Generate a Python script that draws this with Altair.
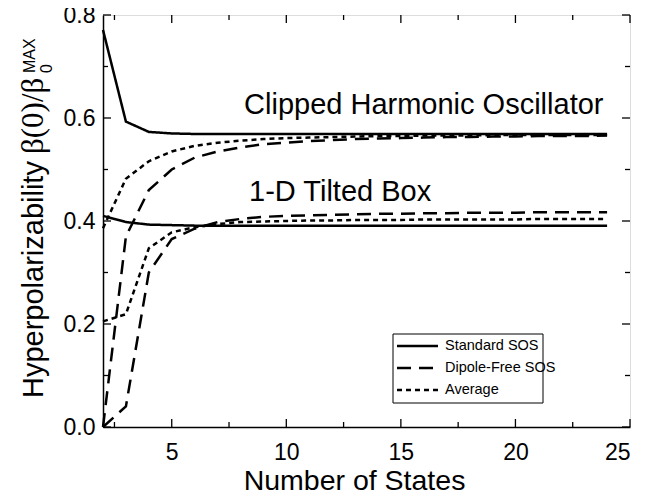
import altair as alt
import pandas as pd

# ---------------- data ----------------
states = list(range(2, 25))

cho_standard = [0.771, 0.593, 0.573, 0.570, 0.569, 0.569, 0.569, 0.569, 0.569, 0.569,
                0.569, 0.569, 0.569, 0.569, 0.569, 0.569, 0.569, 0.569, 0.569, 0.569,
                0.569, 0.569, 0.569]
cho_dipole_free = [0.0, 0.37, 0.46, 0.50, 0.523, 0.535, 0.543, 0.549, 0.552, 0.555,
                   0.557, 0.559, 0.560, 0.561, 0.562, 0.563, 0.563, 0.564, 0.564, 0.565,
                   0.565, 0.565, 0.566]
cho_average = [0.386, 0.482, 0.516, 0.535, 0.546, 0.552, 0.556, 0.559, 0.561, 0.562,
               0.563, 0.564, 0.565, 0.565, 0.566, 0.566, 0.566, 0.567, 0.567, 0.567,
               0.567, 0.567, 0.567]

tb_standard = [0.410, 0.398, 0.393, 0.392, 0.391, 0.391, 0.391, 0.391, 0.391, 0.391,
               0.391, 0.391, 0.391, 0.391, 0.391, 0.391, 0.391, 0.391, 0.391, 0.391,
               0.391, 0.391, 0.391]
tb_dipole_free = [0.0, 0.04, 0.30, 0.365, 0.385, 0.398, 0.404, 0.408, 0.410, 0.411,
                  0.412, 0.413, 0.414, 0.414, 0.415, 0.415, 0.416, 0.416, 0.416, 0.417,
                  0.417, 0.417, 0.417]
tb_average = [0.205, 0.219, 0.347, 0.378, 0.388, 0.394, 0.398, 0.399, 0.400, 0.401,
              0.401, 0.402, 0.402, 0.402, 0.403, 0.403, 0.403, 0.403, 0.403, 0.404,
              0.404, 0.404, 0.404]

series_names = ["Standard SOS", "Dipole-Free SOS", "Average"]
systems = ["Clipped Harmonic Oscillator", "1-D Tilted Box"]

x_major = [5, 10, 15, 20, 25]
x_minor = [2.5, 7.5, 12.5, 17.5, 22.5]
y_major = [0.0, 0.2, 0.4, 0.6, 0.8]
y_minor = [0.1, 0.3, 0.5, 0.7]

annot_text = ["Clipped Harmonic Oscillator", "1-D Tilted Box"]
annot_x = [16.0, 12.35]
annot_y = [0.625, 0.456]

# ---------------- build table ----------------
rows = []
for sysname, sets in [(systems[0], [cho_standard, cho_dipole_free, cho_average]),
                      (systems[1], [tb_standard, tb_dipole_free, tb_average])]:
    for sname, vals in zip(series_names, sets):
        for n, v in zip(states, vals):
            rows.append({"N": n, "value": v, "series": sname, "system": sysname,
                         "key": sysname + "|" + sname})
df = pd.DataFrame(rows)

W, H = 527, 412
FONT = "Liberation Sans"
DASHES = [[1, 0], [14, 8], [5, 4]]

xscale = alt.Scale(domain=[2, 25], nice=False, zero=False)
yscale = alt.Scale(domain=[0, 0.8], nice=False)

lines = alt.Chart(df).mark_line(strokeWidth=2.5, color="black").encode(
    x=alt.X("N:Q", scale=xscale,
            axis=alt.Axis(values=x_major, tickSize=0, grid=False, labelFontSize=23,
                          labelFont=FONT, labelColor="black", labelPadding=14,
                          domainColor="black", domainWidth=1.5,
                          title="Number of States", titleFont=FONT, titleFontSize=28.5,
                          titleFontWeight="normal", titleColor="black", titlePadding=2,
                          titleX=251, titleAlign="center")),
    y=alt.Y("value:Q", scale=yscale,
            axis=alt.Axis(values=y_major, format=".1f", tickSize=0, grid=False,
                          labelFontSize=23, labelFont=FONT, labelColor="black",
                          labelPadding=8, domainColor="black", domainWidth=1.5,
                          title=None)),
    detail="key:N",
    strokeDash=alt.StrokeDash(
        "series:N",
        scale=alt.Scale(domain=series_names, range=DASHES),
        legend=None,
    ),
    order="N:Q",
)

# inward ticks
def tick_df(vals, kind):
    return pd.DataFrame({"v": vals, "kind": [kind] * len(vals)})

xt = pd.concat([tick_df(x_major, "major"), tick_df(x_minor, "minor")])
yt = pd.concat([tick_df(y_major, "major"), tick_df(y_minor, "minor")])

def xticks(y0, major_len, minor_len):
    base = alt.Chart(xt)
    maj = base.transform_filter(alt.datum.kind == "major").mark_rule(color="black", strokeWidth=1.3).encode(
        x=alt.X("v:Q", scale=xscale), y=alt.value(y0), y2=alt.value(y0 + major_len))
    mino = base.transform_filter(alt.datum.kind == "minor").mark_rule(color="black", strokeWidth=1.3).encode(
        x=alt.X("v:Q", scale=xscale), y=alt.value(y0), y2=alt.value(y0 + minor_len))
    return maj + mino

def yticks(x0, major_len, minor_len):
    base = alt.Chart(yt)
    maj = base.transform_filter(alt.datum.kind == "major").mark_rule(color="black", strokeWidth=1.3).encode(
        y=alt.Y("v:Q", scale=yscale), x=alt.value(x0), x2=alt.value(x0 + major_len))
    mino = base.transform_filter(alt.datum.kind == "minor").mark_rule(color="black", strokeWidth=1.3).encode(
        y=alt.Y("v:Q", scale=yscale), x=alt.value(x0), x2=alt.value(x0 + minor_len))
    return maj + mino

ticks = xticks(H, -8, -5) + xticks(0, 8, 5) + yticks(0, 8, 5) + yticks(W, -8, -5)

annot = alt.Chart(pd.DataFrame({"t": annot_text, "x": annot_x, "y": annot_y})).mark_text(
    font=FONT, fontSize=29, color="black", align="center", baseline="middle").encode(
    x=alt.X("x:Q", scale=xscale), y=alt.Y("y:Q", scale=yscale), text="t:N")

# manual legend (box, sample lines, labels)
one = pd.DataFrame({"a": [0]})
LX0, LX1, LY0, LY1 = 290, 440, 319, 388
legend_box = alt.Chart(one).mark_rect(fill="white", stroke="black", strokeWidth=1).encode(
    x=alt.value(LX0), x2=alt.value(LX1), y=alt.value(LY0), y2=alt.value(LY1))
legend_layers = [legend_box]
for i, name in enumerate(series_names):
    ry = 331 + 22 * i
    legend_layers.append(
        alt.Chart(one).mark_rule(color="black", strokeWidth=2.5, strokeDash=DASHES[i]).encode(
            x=alt.value(294), x2=alt.value(335), y=alt.value(ry)))
    legend_layers.append(
        alt.Chart(pd.DataFrame({"t": [name]})).mark_text(
            font=FONT, fontSize=14.5, color="black", align="left", baseline="middle").encode(
            text="t:N", x=alt.value(342), y=alt.value(ry)))

# y-axis title, composed from pieces
def ytitle_piece(text, px, py, size, font):
    return alt.Chart(pd.DataFrame({"t": [text]})).mark_text(
        font=font, fontSize=size, color="black", angle=270, align="left",
        baseline="alphabetic").encode(text="t:N", x=alt.value(px), y=alt.value(py))

ytitle = (ytitle_piece("Hyperpolarizability", -60, 383, 29, FONT)
          + ytitle_piece("β(0)/β", -60, 139, 31, "Liberation Serif")
          + ytitle_piece("0", -51, 58, 16, FONT)
          + ytitle_piece("MAX", -68, 58, 16, FONT))

chart = alt.layer(lines, ticks, annot, *legend_layers, ytitle).properties(
    width=W, height=H,
    autosize=alt.AutoSizeParams(type="none"),
    padding={"left": 95, "top": 7, "right": 28, "bottom": 63},
).configure_view(stroke="black", strokeWidth=1.5).configure(background="white")

chart.save("out.html", embed_options={"renderer": "svg", "actions": False})
